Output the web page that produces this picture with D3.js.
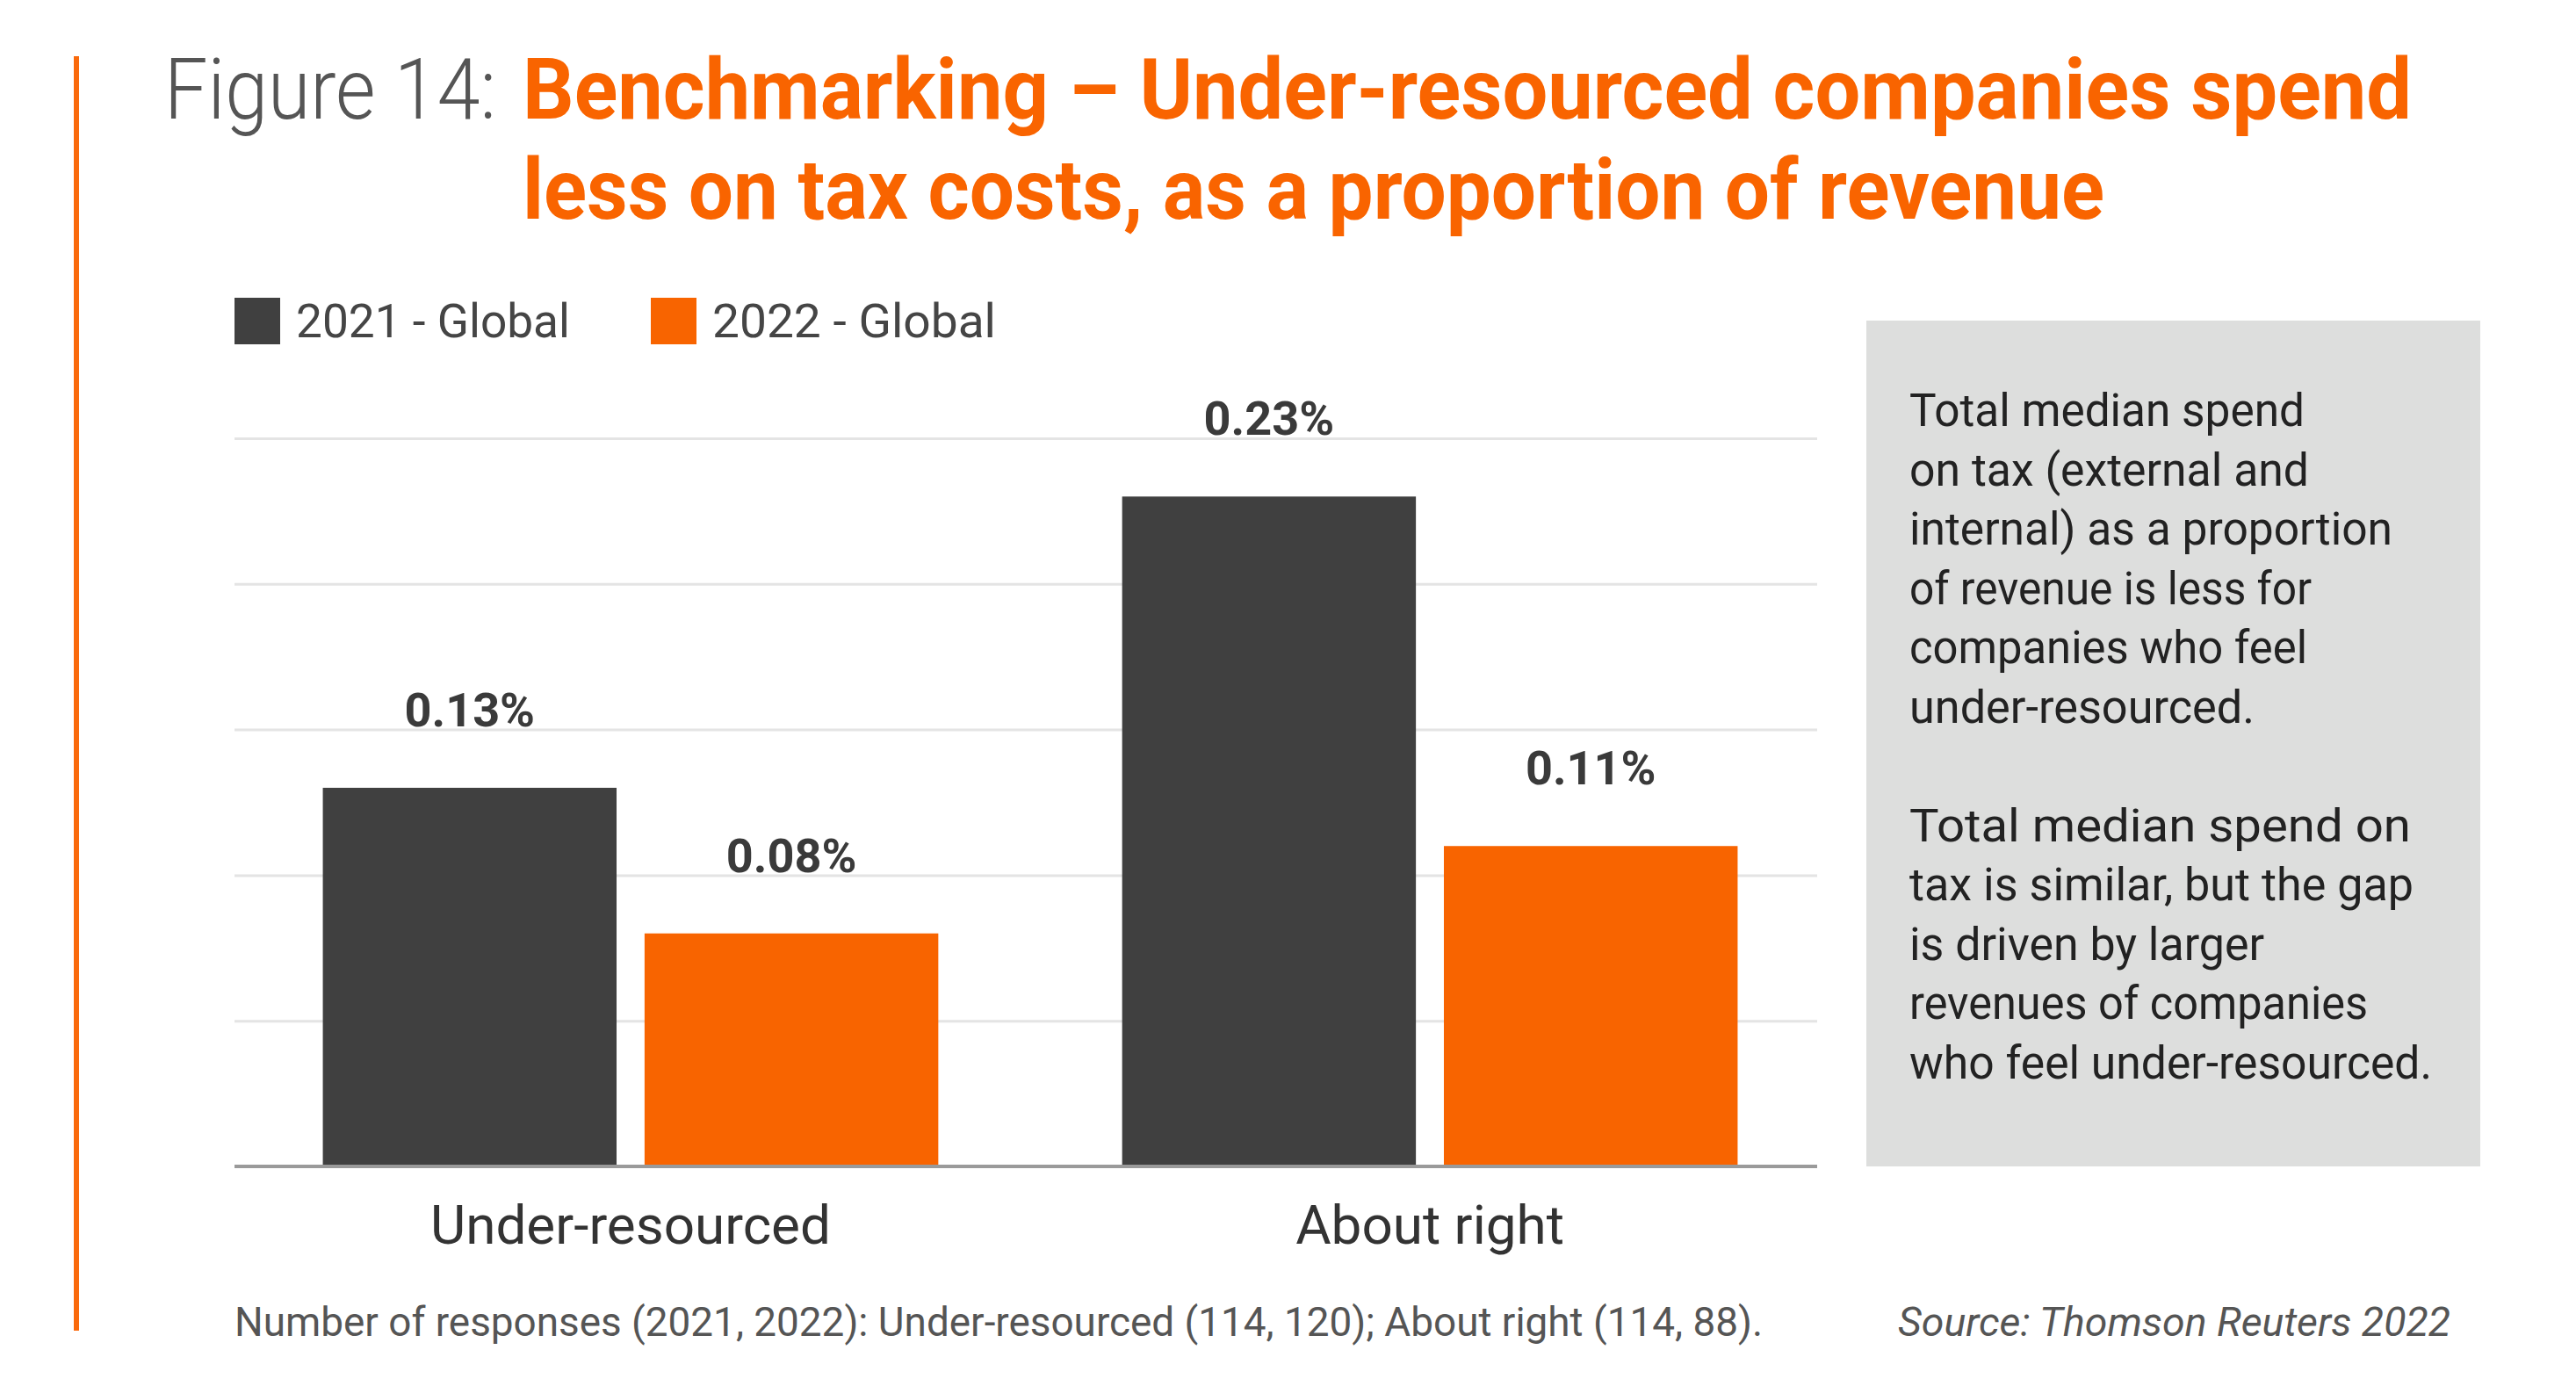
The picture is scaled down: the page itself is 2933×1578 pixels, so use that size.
<!DOCTYPE html>
<html>
<head>
<meta charset="utf-8">
<script src="https://cdn.jsdelivr.net/npm/d3@7"></script>
<style>
  html, body { margin: 0; padding: 0; background: #ffffff; }
  svg { display: block; }
</style>
</head>
<body>
<div id="chart"></div>
<script>
// ---------- DATA ----------
const categories = ["Under-resourced", "About right"];
const seriesNames = ["2021 - Global", "2022 - Global"];
const values2021 = [0.13, 0.23];
const values2022 = [0.08, 0.11];
const yTicks = [0, 0.05, 0.10, 0.15, 0.20, 0.25];
const titlePrefix = "Figure 14:";
const titleLines = ["Benchmarking – Under-resourced companies spend", "less on tax costs, as a proportion of revenue"];
const noteLines = [
  "Total median spend",
  "on tax (external and",
  "internal) as a proportion",
  "of revenue is less for",
  "companies who feel",
  "under-resourced.",
  "",
  "Total median spend on",
  "tax is similar, but the gap",
  "is driven by larger",
  "revenues of companies",
  "who feel under-resourced."
];
const footnote = "Number of responses (2021, 2022): Under-resourced (114, 120); About right (114, 88).";
const sourceText = "Source: Thomson Reuters 2022";

// ---------- LAYOUT ----------
const W = 2933, H = 1578;
const colors = ["#404040", "#f86400"];
const plot = { left: 267, right: 2069, top: 499, bottom: 1328 };

const svg = d3.select("#chart").append("svg")
  .attr("width", W).attr("height", H)
  .style("font-family", "Roboto, 'Noto Sans', sans-serif");

// left orange rule
svg.append("rect").attr("x", 84).attr("y", 64).attr("width", 6).attr("height", 1451).attr("fill", "#fa6a0c");

// title
svg.append("text").attr("x", 187).attr("y", 135)
  .attr("font-size", 96).attr("font-weight", 300).attr("fill", "#555555")
  .attr("textLength", 378).attr("lengthAdjust", "spacingAndGlyphs")
  .text(titlePrefix);
const titleWidths = [2151, 1801];
titleLines.forEach((t, i) => {
  svg.append("text").attr("x", 595).attr("y", 135 + i * 114)
    .attr("font-size", 96).attr("font-weight", 700).attr("fill", "#f96400")
    .attr("textLength", titleWidths[i]).attr("lengthAdjust", "spacingAndGlyphs")
    .text(t);
});

// legend
const legendX = [267, 741];
seriesNames.forEach((s, i) => {
  svg.append("rect").attr("x", legendX[i]).attr("y", 339).attr("width", 52).attr("height", 53).attr("fill", colors[i]);
  svg.append("text").attr("x", legendX[i] + 70).attr("y", 384)
    .attr("font-size", 54).attr("fill", "#454545")
    .attr("textLength", i === 0 ? 312 : 323).attr("lengthAdjust", "spacingAndGlyphs")
    .text(s);
});

// scales
const x0 = d3.scaleBand().domain(categories).range([plot.left + 5, plot.right + 5])
  .paddingInner(0.23).paddingOuter(0.105);
const x1 = d3.scaleBand().domain(seriesNames).range([0, x0.bandwidth()]).paddingInner(0.087);
const y = d3.scaleLinear().domain([0, 0.25]).range([plot.bottom, plot.top]);

// gridlines
const grid = svg.append("g").attr("transform", `translate(${plot.left},0)`)
  .call(d3.axisLeft(y).tickValues(yTicks.filter(v => v > 0)).tickSize(-(plot.right - plot.left)).tickFormat(""));
grid.select(".domain").remove();
grid.selectAll(".tick line").attr("stroke", "#e4e4e4").attr("stroke-width", 3);

// bars
const rows = categories.map((c, i) => ({ cat: c, vals: [values2021[i], values2022[i]] }));
const groups = svg.append("g").selectAll("g").data(rows).join("g")
  .attr("transform", d => `translate(${x0(d.cat)},0)`);
groups.selectAll("rect").data(d => d.vals.map((v, j) => ({ s: seriesNames[j], v, j }))).join("rect")
  .attr("x", d => x1(d.s)).attr("width", x1.bandwidth())
  .attr("y", d => y(d.v)).attr("height", d => y(0) - y(d.v))
  .attr("fill", d => colors[d.j]);
groups.selectAll("text.val").data(d => d.vals.map((v, j) => ({ s: seriesNames[j], v, j }))).join("text")
  .attr("class", "val")
  .attr("x", d => x1(d.s) + x1.bandwidth() / 2)
  .attr("y", d => y(d.v) - 70)
  .attr("text-anchor", "middle").attr("font-size", 54).attr("font-weight", 700).attr("fill", "#3a3a3a")
  .text(d => d3.format(".2f")(d.v) + "%");

// x axis
const xAxis = svg.append("g").attr("transform", `translate(0,${plot.bottom})`)
  .call(d3.axisBottom(x0).tickSize(0).tickPadding(0));
xAxis.select(".domain").attr("stroke", "#9a9a9a").attr("stroke-width", 4)
  .attr("d", `M${plot.left},0H${plot.right}`);
xAxis.selectAll(".tick text")
  .attr("y", 88).attr("dy", 0)
  .attr("font-size", 62).attr("fill", "#333333")
  .style("font-family", "Roboto, 'Noto Sans', sans-serif");

// note box
svg.append("rect").attr("x", 2125).attr("y", 365).attr("width", 699).attr("height", 963).attr("fill", "#dddedd");
const noteWidths = [450, 455, 550, 458, 453, 393, 0, 571, 574, 404, 522, 595];
noteLines.forEach((t, k) => {
  if (!t) return;
  svg.append("text").attr("x", 2174).attr("y", 485 + k * 67.5)
    .attr("font-size", 51).attr("fill", "#222222")
    .attr("textLength", noteWidths[k]).attr("lengthAdjust", "spacingAndGlyphs")
    .text(t);
});

// footer
svg.append("text").attr("x", 267).attr("y", 1521)
  .attr("font-size", 46).attr("fill", "#555555")
  .attr("textLength", 1740).attr("lengthAdjust", "spacingAndGlyphs")
  .text(footnote);
svg.append("text").attr("x", 2161).attr("y", 1521)
  .attr("font-size", 46).attr("font-style", "italic").attr("fill", "#555555")
  .attr("textLength", 629).attr("lengthAdjust", "spacingAndGlyphs")
  .text(sourceText);
</script>
</body>
</html>
